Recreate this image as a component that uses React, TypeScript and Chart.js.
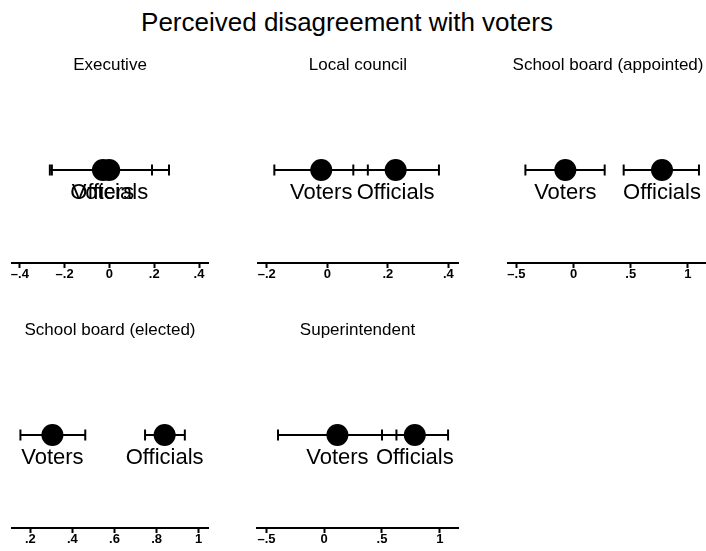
import React, { useEffect, useRef } from 'react';
import { Chart, registerables } from 'chart.js';

Chart.register(...registerables);

// ---- data ----
const MAIN_TITLE = 'Perceived disagreement with voters';
const SERIES = ['Voters', 'Officials'];
const PANEL_TITLES = [
  'Executive',
  'Local council',
  'School board (appointed)',
  'School board (elected)',
  'Superintendent',
];
// point estimates per panel: [Voters, Officials]
const ESTIMATES = [
  [-0.029, -0.001],
  [-0.02, 0.226],
  [-0.072, 0.773],
  [0.305, 0.838],
  [0.114, 0.784],
];
const LOWER = [
  [-0.257, -0.266],
  [-0.175, 0.086],
  [-0.421, 0.438],
  [0.153, 0.745],
  [-0.4, 0.5],
];
const UPPER = [
  [0.19, 0.266],
  [0.134, 0.369],
  [0.272, 1.096],
  [0.461, 0.934],
  [0.625, 1.072],
];
const TICKS = [
  [-0.4, -0.2, 0, 0.2, 0.4],
  [-0.2, 0, 0.2, 0.4],
  [-0.5, 0, 0.5, 1],
  [0.2, 0.4, 0.6, 0.8, 1],
  [-0.5, 0, 0.5, 1],
];
const AXIS_MIN = [-0.435, -0.229, -0.573, 0.113, -0.582];
const AXIS_MAX = [0.44, 0.432, 1.175, 1.044, 1.158];

// ---- layout (pixels) ----
const FONT = '"Liberation Sans", Arial, Helvetica, sans-serif';
const PLOT_LEFT = [12, 258, 508, 12, 257];
const PLOT_RIGHT = [208, 458, 708, 208, 458];
const ROW_OF = [0, 0, 0, 1, 1];
const ROW_TOP = [45, 310];
const PANEL_HEIGHT = 240;
const PAD_BOTTOM = 4;
const POINT_LEVEL = 0.5236;
const SIDE_PAD = 12;

function fmtTick(v: number): string {
  if (Math.abs(v) < 1e-9) return '0';
  const s = String(Math.round(Math.abs(v) * 100) / 100).replace(/^0\./, '.');
  return (v < 0 ? '\u2013' : '') + s;
}

const labelPlugin = {
  id: 'pointLabels',
  afterDatasetsDraw(chart: any) {
    const meta = chart.getDatasetMeta(0);
    const ctx = chart.ctx;
    ctx.save();
    ctx.fillStyle = '#000';
    ctx.font = `22px ${FONT}`;
    ctx.textAlign = 'center';
    ctx.textBaseline = 'alphabetic';
    meta.data.forEach((el: any, i: number) => {
      ctx.fillText(SERIES[i], el.x, el.y + 29);
    });
    ctx.restore();
  },
};

function Panel({ idx }: { idx: number }) {
  const ref = useRef<HTMLCanvasElement>(null);
  const row = ROW_OF[idx];
  const left = PLOT_LEFT[idx] - SIDE_PAD;
  const width = PLOT_RIGHT[idx] - PLOT_LEFT[idx] + SIDE_PAD * 2;
  const height = PANEL_HEIGHT;

  useEffect(() => {
    if (!ref.current) return;
    const dots = {
      label: 'estimates',
      data: SERIES.map((_, i) => ({ x: ESTIMATES[idx][i], y: POINT_LEVEL })),
      pointRadius: 11,
      pointBackgroundColor: '#000',
      pointBorderColor: '#000',
      pointBorderWidth: 0,
      showLine: false,
      order: 0,
      clip: false as any,
    };
    const bars = SERIES.map((s, i) => ({
      label: s + ' CI',
      data: [
        { x: LOWER[idx][i], y: POINT_LEVEL },
        { x: UPPER[idx][i], y: POINT_LEVEL },
      ],
      showLine: true,
      borderColor: '#000',
      borderWidth: 2,
      pointStyle: 'line',
      rotation: 90,
      pointRadius: 5.5,
      pointBorderColor: '#000',
      pointBorderWidth: 2,
      order: 1,
      clip: false as any,
    }));
    const chart = new Chart(ref.current, {
      type: 'scatter',
      data: { datasets: [dots, ...bars] as any },
      options: {
        responsive: false,
        animation: false,
        devicePixelRatio: 1,
        events: [],
        layout: {
          padding: { left: SIDE_PAD, right: SIDE_PAD, top: 0, bottom: PAD_BOTTOM },
        },
        plugins: {
          legend: { display: false },
          tooltip: { enabled: false },
          title: {
            display: true,
            text: PANEL_TITLES[idx],
            color: '#000',
            font: { family: FONT, size: 17, weight: 'normal' as any },
            padding: { top: 10, bottom: 10 },
          },
        },
        scales: {
          x: {
            type: 'linear',
            min: AXIS_MIN[idx],
            max: AXIS_MAX[idx],
            afterBuildTicks: (scale: any) => {
              scale.ticks = TICKS[idx].map((v) => ({ value: v }));
            },
            grid: {
              display: true,
              drawOnChartArea: false,
              drawTicks: true,
              tickLength: 5,
              tickWidth: 2,
              tickColor: '#000',
            },
            border: { display: true, color: '#000', width: 2 },
            ticks: {
              color: '#000',
              autoSkip: false,
              maxRotation: 0,
              padding: 0,
              font: { family: FONT, size: 13, weight: 'bold' as any, lineHeight: 1 },
              callback: (v: any) => fmtTick(Number(v)),
            },
          },
          y: { display: false, min: 0, max: 1 },
        },
      },
      plugins: [labelPlugin],
    });
    return () => chart.destroy();
  }, [idx]);

  return (
    <canvas
      ref={ref}
      width={width}
      height={height}
      style={{ position: 'absolute', left, top: ROW_TOP[row], width, height }}
    />
  );
}

export default function App() {
  return (
    <div
      style={{
        position: 'fixed',
        left: 0,
        top: 0,
        width: 706,
        height: 551,
        overflow: 'hidden',
        background: '#fff',
      }}
    >
      <div
        style={{
          position: 'absolute',
          left: 0,
          top: 9,
          width: 694,
          textAlign: 'center',
          fontFamily: FONT,
          fontSize: 26,
          lineHeight: '26px',
          color: '#000',
        }}
      >
        {MAIN_TITLE}
      </div>
      {PANEL_TITLES.map((_, i) => (
        <Panel key={i} idx={i} />
      ))}
    </div>
  );
}
